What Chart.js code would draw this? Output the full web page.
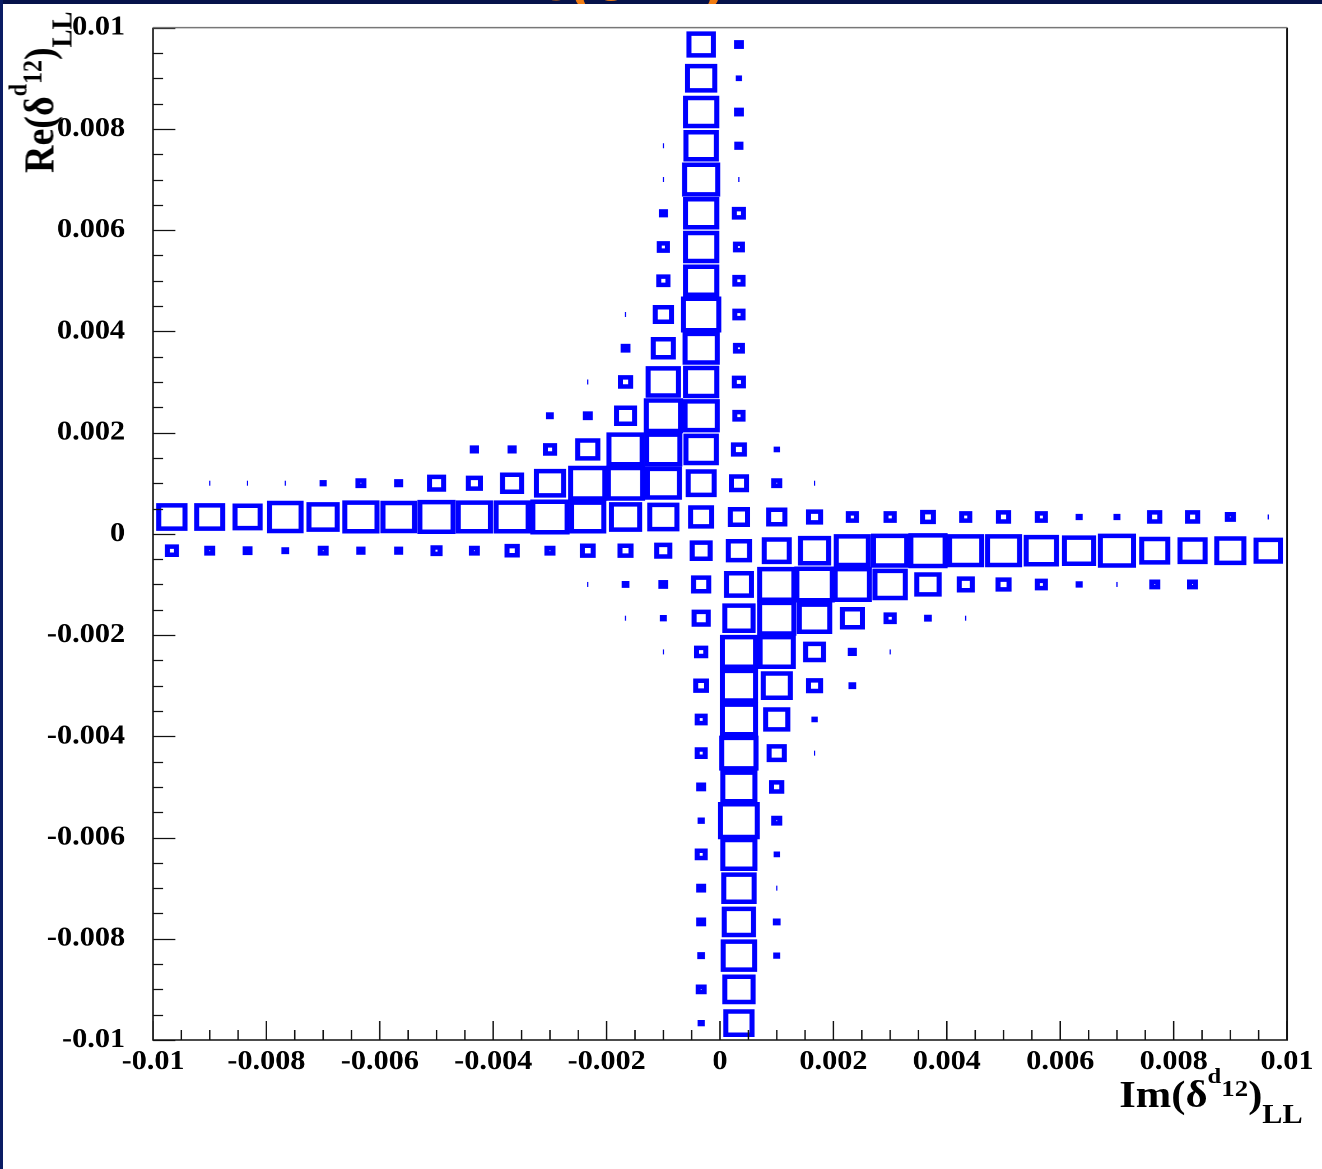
<!DOCTYPE html>
<html><head><meta charset="utf-8">
<script src="https://cdn.jsdelivr.net/npm/chart.js@4.4.1/dist/chart.umd.min.js"></script>
<style>
html,body{margin:0;padding:0;background:#fff;}
#page{position:relative;width:1322px;height:1169px;overflow:hidden;background:#fff;}
#stage{position:absolute;left:0;top:0;width:1180px;height:1169px;transform:scaleX(1.12034);transform-origin:0 0;}
#c{position:absolute;left:0;top:0;}
.axt{position:absolute;white-space:nowrap;font-family:'Liberation Serif','Times New Roman',serif;font-weight:bold;font-size:38px;line-height:50px;color:#000;}
.axt span{position:relative;line-height:0;}
.axt .sup{font-size:22px;top:-24px;}
.axt .mid{font-size:24px;top:-11px;}
.axt .sub{font-size:27px;top:16px;}
#ytitle{left:9.5px;top:173px;transform-origin:0 0;transform:rotate(-90deg);}
#xtitle{left:999px;top:1069px;}
#topbar{position:absolute;left:0;top:0;width:1322px;height:4px;background:#06124a;overflow:hidden;z-index:2;}
#toptitle{position:absolute;left:488px;top:-58px;white-space:nowrap;font-family:'Liberation Serif',serif;font-weight:bold;font-size:70px;line-height:70px;color:#f07b12;}
#toptitle span{font-size:46px;}
#leftbar{position:absolute;left:0;top:0;width:3px;height:1169px;background:#0a1c64;z-index:2;}
</style>
</head>
<body>
<div id="page">
  <div id="topbar"><div id="toptitle">Re(δ<span>d</span><span>12</span>)<span>LL</span></div></div>
  <div id="leftbar"></div>
  <div id="stage">
    <canvas id="c" width="1180" height="1169"></canvas>
    <div class="axt" id="ytitle">Re(δ<span class="sup">d</span><span class="mid">12</span>)<span class="sub">LL</span></div>
    <div class="axt" id="xtitle">Im(δ<span class="sup">d</span><span class="mid">12</span>)<span class="sub">LL</span></div>
  </div>
</div>
<script>
// ---- bin centres (30 x 30 bins from -0.01 to 0.01) ----
const imBinCenters = [-0.009667,-0.009,-0.008333,-0.007667,-0.007,-0.006333,-0.005667,-0.005,-0.004333,-0.003667,
  -0.003,-0.002333,-0.001667,-0.001,-0.000333,0.000333,0.001,0.001667,0.002333,0.003,
  0.003667,0.004333,0.005,0.005667,0.006333,0.007,0.007667,0.008333,0.009,0.009667];
const reBinCenters = [-0.009667,-0.009,-0.008333,-0.007667,-0.007,-0.006333,-0.005667,-0.005,-0.004333,-0.003667,
  -0.003,-0.002333,-0.001667,-0.001,-0.000333,0.000333,0.001,0.001667,0.002333,0.003,
  0.003667,0.004333,0.005,0.005667,0.006333,0.007,0.007667,0.008333,0.009,0.009667];

// ---- bin contents, one row per Re bin (top to bottom); each row starts at rowFirstImBin ----
const rowReBin = [29,28,27,26,25,24,23,22,21,20,19,18,17,16,15,14,13,12,11,10,9,8,7,6,5,4,3,2,1,0];
const rowFirstImBin = [14,14,14,13,13,13,13,13,12,12,11,10,8,1,0,0,11,12,13,14,14,14,14,14,14,14,14,14,14,14];
const rowContents = [
  [69,14],
  [77,9],
  [89,14],
  [3,86,13],
  [3,94,3],
  [13,89,26],
  [23,89,20],
  [26,89,23],
  [3,46,100,23],
  [14,57,91,20],
  [3,29,86,89,26],
  [11,14,51,97,91,23],
  [13,13,26,57,94,94,86,31,9],
  [3,3,3,10,17,13,40,34,54,77,97,97,91,74,43,17,3],
  [74,74,71,89,80,91,89,94,91,91,97,91,80,77,60,49,46,34,23,23,31,23,29,23,10,10,29,29,17,3],
  [26,17,14,11,17,13,13,20,17,29,17,31,31,37,51,60,71,80,91,94,97,91,91,86,83,94,74,71,77,69],
  [3,11,14,43,71,97,100,97,86,63,37,31,23,10,3,17,17],
  [3,10,40,80,97,86,57,23,11,3],
  [3,26,94,94,51,13,3],
  [31,94,77,34,11],
  [23,94,63,9],
  [23,97,43,3],
  [14,91,29],
  [10,104,17],
  [23,91,9],
  [14,86,3],
  [14,83,11],
  [11,89,10],
  [17,80],
  [10,74]
];

// ---- axis ticks ----
const xTickValues = [-0.01,-0.008,-0.006,-0.004,-0.002,0,0.002,0.004,0.006,0.008,0.01];
const xTickLabels = ['-0.01','-0.008','-0.006','-0.004','-0.002','0','0.002','0.004','0.006','0.008','0.01'];
const yTickValues = [-0.01,-0.008,-0.006,-0.004,-0.002,0,0.002,0.004,0.006,0.008,0.01];
const yTickLabels = ['-0.01','-0.008','-0.006','-0.004','-0.002','0','0.002','0.004','0.006','0.008','0.01'];
const minorPerMajor = 4;

// build point list from the arrays
const cells = [];
rowContents.forEach((row, r) => {
  row.forEach((v, k) => {
    cells.push({x: imBinCenters[rowFirstImBin[r] + k], y: reBinCenters[rowReBin[r]], v: v});
  });
});

const SIDE_PER_UNIT = 0.315;       // px of box side per unit of content
const LINE = 4.5;
const TINY = 3;                    // contents this small are drawn as a hairline, as in the original
function isTiny(ctx){ return ctx.raw && ctx.raw.v <= TINY; }
function boxSide(ctx){ return ctx.raw ? ctx.raw.v * SIDE_PER_UNIT : 0; }
function boxRadius(ctx){ return isTiny(ctx) ? 2.5 : boxSide(ctx) / Math.SQRT2; }
function boxLine(ctx){ if (isTiny(ctx)) return 1.1; const p = boxSide(ctx); return p >= LINE ? LINE : Math.max(1, p); }

const frameTicks = {
  id: 'frameTicks',
  afterDatasetsDraw(chart) {
    const {ctx, chartArea: a, scales} = chart;
    const xs = scales.x, ys = scales.y;
    ctx.save();
    ctx.lineWidth = 1.3;
    ctx.strokeStyle = '#111';
    ctx.beginPath();
    for (let m = 0; m < xTickValues.length; m++) {
      const v0 = xTickValues[m];
      const px = xs.getPixelForValue(v0);
      ctx.moveTo(px, a.bottom); ctx.lineTo(px, a.bottom - 19);
      if (m < xTickValues.length - 1) {
        const step = (xTickValues[m+1] - v0) / minorPerMajor;
        for (let k = 1; k < minorPerMajor; k++) {
          const p = xs.getPixelForValue(v0 + k*step);
          ctx.moveTo(p, a.bottom); ctx.lineTo(p, a.bottom - 10);
        }
      }
    }
    for (let m = 0; m < yTickValues.length; m++) {
      const v0 = yTickValues[m];
      const py = Math.round(ys.getPixelForValue(v0)) + 0.5;
      ctx.moveTo(a.left, py); ctx.lineTo(a.left + 20, py);
      if (m < yTickValues.length - 1) {
        const step = (yTickValues[m+1] - v0) / minorPerMajor;
        for (let k = 1; k < minorPerMajor; k++) {
          const p = Math.round(ys.getPixelForValue(v0 + k*step)) + 0.5;
          ctx.moveTo(a.left, p); ctx.lineTo(a.left + 9, p);
        }
      }
    }
    ctx.stroke();
    ctx.lineWidth = 1.5;
    ctx.strokeStyle = '#111';
    ctx.beginPath();
    ctx.moveTo(a.left, a.top); ctx.lineTo(a.left, a.bottom); ctx.lineTo(a.right, a.bottom); ctx.lineTo(a.right, a.top);
    ctx.stroke();
    ctx.strokeStyle = '#777';
    ctx.beginPath();
    ctx.moveTo(a.left, a.top); ctx.lineTo(a.right, a.top);
    ctx.stroke();
    ctx.restore();
  }
};

const tickFont = {family: "'Liberation Serif', 'Times New Roman', serif", weight: 'bold', size: 27};

new Chart(document.getElementById('c'), {
  type: 'scatter',
  data: {
    datasets: [{
      data: cells,
      pointStyle: ctx => isTiny(ctx) ? 'line' : 'rect',
      rotation: ctx => isTiny(ctx) ? 90 : 0,
      backgroundColor: 'rgba(0,0,0,0)',
      borderColor: '#0000ff',
      pointRadius: boxRadius,
      pointHoverRadius: boxRadius,
      pointBorderWidth: boxLine,
      pointHoverBorderWidth: boxLine,
      clip: false
    }]
  },
  options: {
    responsive: false,
    devicePixelRatio: 2,
    animation: false,
    events: [],
    layout: {padding: {top: 27, right: 31.2, left: 0, bottom: 0}},
    plugins: {legend: {display: false}, tooltip: {enabled: false}, title: {display: false}},
    scales: {
      x: {
        type: 'linear', position: 'bottom', min: -0.01, max: 0.01,
        afterBuildTicks: s => { s.ticks = xTickValues.map(v => ({value: v})); },
        afterFit: s => { s.height = 129; s.paddingLeft = 0; s.paddingRight = 0; },
        grid: {display: false, drawTicks: false},
        border: {display: false},
        ticks: {autoSkip: false, maxRotation: 0, padding: 6, color: '#000', font: tickFont,
                callback: (v, i) => xTickLabels[i]}
      },
      y: {
        type: 'linear', position: 'left', min: -0.01, max: 0.01,
        afterBuildTicks: s => { s.ticks = yTickValues.map(v => ({value: v})); },
        afterFit: s => { s.width = 136.57; s.paddingTop = 0; s.paddingBottom = 0; },
        grid: {display: false, drawTicks: false},
        border: {display: false},
        ticks: {autoSkip: false, padding: 25, color: '#000', font: tickFont,
                callback: (v, i) => yTickLabels[i]}
      }
    }
  },
  plugins: [frameTicks]
});
</script>
</body></html>
